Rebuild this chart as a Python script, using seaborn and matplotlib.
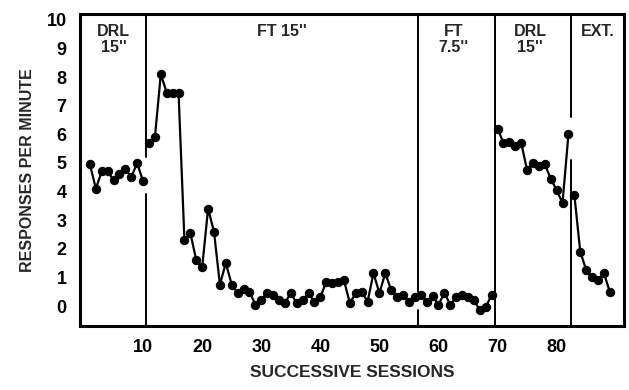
import matplotlib
matplotlib.use("Agg")
import matplotlib.pyplot as plt
import numpy as np
import pandas as pd
import seaborn as sns

# responses per minute, one value per session, grouped by phase
drl1 = [4.95, 4.1, 4.7, 4.7, 4.4, 4.6, 4.8, 4.5, 5.0, 4.35]
ft15 = [5.7, 5.9, 8.1, 7.45, 7.45, 7.45, 2.3, 2.55, 1.6, 1.35,
        3.4, 2.6, 0.75, 1.5, 0.75, 0.45, 0.6, 0.5, 0.05, 0.2,
        0.45, 0.4, 0.2, 0.1, 0.45, 0.1, 0.2, 0.45, 0.15, 0.3,
        0.85, 0.8, 0.85, 0.9, 0.1, 0.45, 0.5, 0.15, 1.15, 0.45,
        1.15, 0.55, 0.3, 0.4, 0.15, 0.3]
ft75 = [0.4, 0.15, 0.35, 0.05, 0.45, 0.05, 0.3, 0.4, 0.3, 0.2,
        -0.15, -0.05, 0.4]
drl2 = [6.2, 5.7, 5.73, 5.6, 5.7, 4.75, 5.0, 4.9, 4.95, 4.45,
        4.05, 3.6, 6.0]
ext = [3.88, 1.9, 1.26, 1.0, 0.9, 1.15, 0.5]

phase_names = ["DRL\n15''", "FT 15''", "FT\n7.5''", "DRL\n15''", "EXT."]
phase_values = [drl1, ft15, ft75, drl2, ext]
# phase boundaries (between sessions) and the gaps left in each line
boundaries = [10.5, 56.5, 69.5, 82.5]
gaps = [(3.9, 5.2), (-0.15, 0.5), None, (5.1, 6.6)]

rows = []
start = 1
for k, vals in enumerate(phase_values):
    for i, v in enumerate(vals):
        rows.append({"session": start + i, "rate": v, "phase": k})
    start += len(vals)
df = pd.DataFrame(rows)

sns.set_theme(style="white")
plt.rcParams["font.family"] = ["Liberation Sans", "DejaVu Sans"]
plt.rcParams["font.weight"] = "bold"

fig = plt.figure(figsize=(6.29, 3.90), dpi=100)
ax = fig.add_axes([0.127, 0.164, 0.865, 0.800])

sns.lineplot(data=df, x="session", y="rate", hue="phase",
             palette=["black"] * 5, marker="o", markersize=6,
             markeredgecolor="black", linewidth=1.6, legend=False, ax=ax)

ax.set_xlim(-0.7, 91.4)
ax.set_ylim(-0.7, 10.2)

for b, g in zip(boundaries, gaps):
    if g is None:
        ax.axvline(b, color="black", lw=1.4)
    else:
        ax.plot([b, b], [-0.7, g[0]], color="black", lw=1.4)
        ax.plot([b, b], [g[1], 10.2], color="black", lw=1.4)

label_x = [5.0, 33.5, 62.5, 75.5, 87.0]
for name, xx in zip(phase_names, label_x):
    ax.text(xx, 9.85, name, ha="center", va="top", fontsize=11.5,
            fontweight="bold", linespacing=1.1)

ax.set_xticks(np.arange(10, 81, 10))
ax.set_yticks(np.arange(0, 11, 1))
ax.tick_params(axis="both", direction="out", length=6, width=1.5,
               labelsize=13, color="black", labelcolor="black")
for lab in ax.get_xticklabels() + ax.get_yticklabels():
    lab.set_fontweight("bold")
for s in ax.spines.values():
    s.set_linewidth(2.2)
    s.set_color("black")

ax.set_xlabel("SUCCESSIVE SESSIONS", fontsize=12.5, fontweight="bold",
              labelpad=6)
ax.set_ylabel("RESPONSES PER MINUTE", fontsize=11.5, fontweight="bold",
              labelpad=8)

fig.savefig("out.png", dpi=100)
